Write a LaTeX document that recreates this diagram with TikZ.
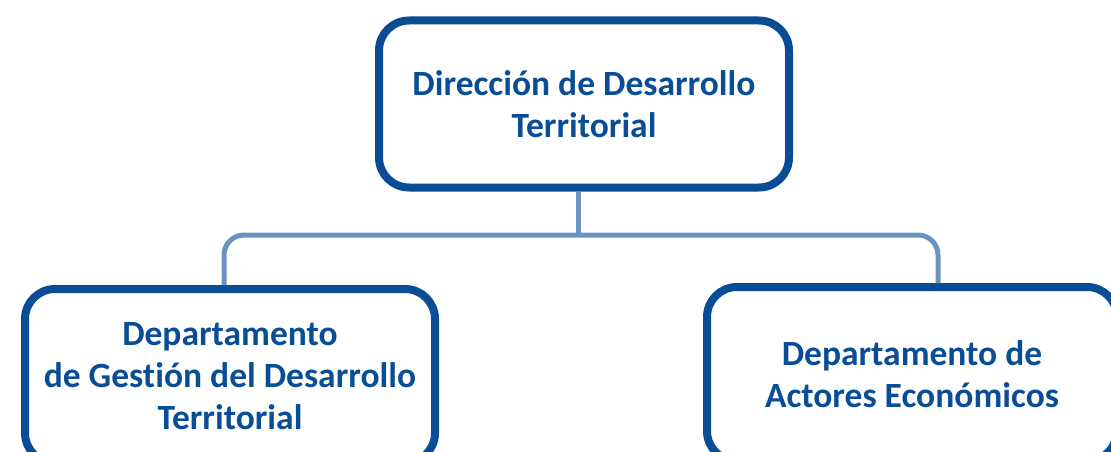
\documentclass[tikz,border=0pt]{standalone}
\usepackage{fontspec}
\setmainfont{Carlito}[Ligatures=NoCommon]
\usetikzlibrary{positioning}
\definecolor{navy}{HTML}{0A4D97}
\definecolor{linkblue}{HTML}{6A93C2}

\begin{document}
\begin{tikzpicture}[x=1pt,y=-1pt,
    unit/.style={draw=navy,line width=8pt,rounded corners=30pt,text=navy,
                 align=center,inner sep=0pt,
                 font=\fontsize{35.5}{42}\selectfont\bfseries},
    link/.style={draw=linkblue,line width=5pt,rounded corners=20pt}]
  \clip (0,0) rectangle (1111,452);
  \node[unit,minimum width=410pt,minimum height=167pt] (dir) at (584,104)
       {Dirección de Desarrollo\\Territorial};
  \node[unit,minimum width=410pt,minimum height=174pt] (gest) at (230,376)
       {Departamento\\de Gestión del Desarrollo\\Territorial};
  \node[unit,minimum width=410pt,minimum height=174pt] (econ) at (912,374)
       {Departamento de\\Actores Económicos};
  % connectors
  \coordinate (fork) at (578,235);
  \draw[link] ([xshift=-6pt]dir.south) -- (fork);
  \draw[link] ([xshift=-6pt]gest.north) |- (fork) -| ([xshift=26pt]econ.north);
\end{tikzpicture}
\end{document}
